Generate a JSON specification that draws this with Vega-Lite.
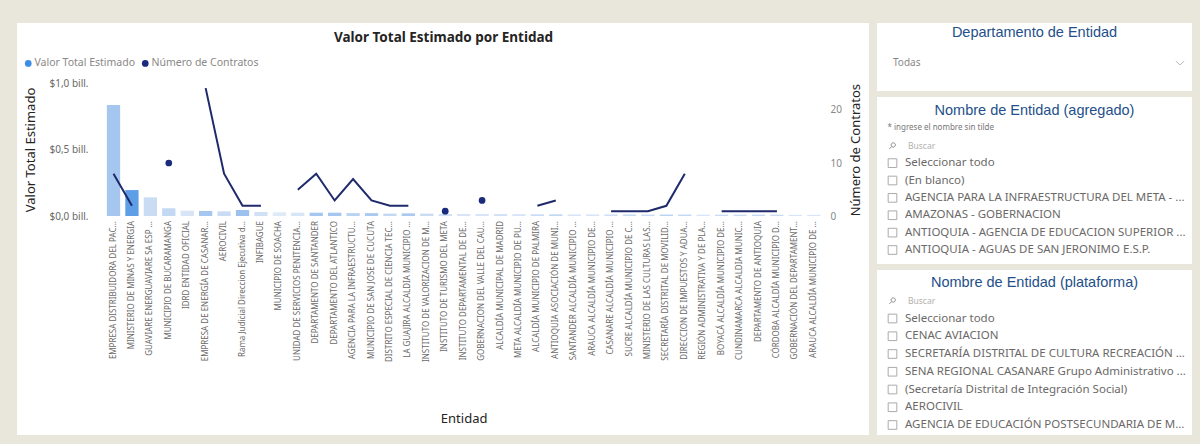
{
  "$schema": "https://vega.github.io/schema/vega-lite/v6.json",
  "background": "#e9e6dc",
  "padding": {"left": 17, "top": 23, "right": 8, "bottom": 9},
  "config": {"font": "Noto Sans", "view": {"stroke": null}},
  "datasets": {
    "entidades": [
      {"orden": 1, "entidad": "EMPRESA DISTRIBUIDORA DEL PAC...", "valor": 0.835, "contratos": 8, "tono": 0.45},
      {"orden": 2, "entidad": "MINISTERIO DE MINAS Y ENERGIA", "valor": 0.195, "contratos": 2, "tono": 0.9},
      {"orden": 3, "entidad": "GUAVIARE ENERGUAVIARE SA ESP ...", "valor": 0.14, "contratos": null, "tono": 0.2},
      {"orden": 4, "entidad": "MUNICIPIO DE BUCARAMANGA", "valor": 0.058, "contratos": 10, "tono": 0.25},
      {"orden": 5, "entidad": "IDRD ENTIDAD OFICIAL", "valor": 0.04, "contratos": null, "tono": 0.1},
      {"orden": 6, "entidad": "EMPRESA DE ENERGÍA DE CASANAR...", "valor": 0.038, "contratos": 24, "tono": 0.45},
      {"orden": 7, "entidad": "AEROCIVIL", "valor": 0.035, "contratos": 8, "tono": 0.2},
      {"orden": 8, "entidad": "Rama Judicial Direccion Ejecutiva d...", "valor": 0.045, "contratos": 2, "tono": 0.5},
      {"orden": 9, "entidad": "INFIBAGUE", "valor": 0.03, "contratos": 2, "tono": 0.15},
      {"orden": 10, "entidad": "MUNICIPIO DE SOACHA", "valor": 0.028, "contratos": null, "tono": 0.05},
      {"orden": 11, "entidad": "UNIDAD DE SERVICIOS PENITENCIA...", "valor": 0.025, "contratos": 5, "tono": 0.1},
      {"orden": 12, "entidad": "DEPARTAMENTO DE SANTANDER", "valor": 0.025, "contratos": 8, "tono": 0.45},
      {"orden": 13, "entidad": "DEPARTAMENTO DEL ATLANTICO", "valor": 0.025, "contratos": 3, "tono": 0.45},
      {"orden": 14, "entidad": "AGENCIA PARA LA INFRAESTRUCTU...", "valor": 0.022, "contratos": 7, "tono": 0.3},
      {"orden": 15, "entidad": "MUNICIPIO DE SAN JOSE DE CUCUTA", "valor": 0.022, "contratos": 3, "tono": 0.4},
      {"orden": 16, "entidad": "DISTRITO ESPECIAL DE CIENCIA TEC...", "valor": 0.018, "contratos": 2, "tono": 0.25},
      {"orden": 17, "entidad": "LA GUAJIRA ALCALDIA MUNICIPIO ...", "valor": 0.02, "contratos": 2, "tono": 0.4},
      {"orden": 18, "entidad": "INSTITUTO DE VALORIZACION DE M...", "valor": 0.018, "contratos": null, "tono": 0.2},
      {"orden": 19, "entidad": "INSTITUTO DE TURISMO DEL META", "valor": 0.015, "contratos": 1, "tono": 0.15},
      {"orden": 20, "entidad": "INSTITUTO DEPARTAMENTAL DE DE...", "valor": 0.015, "contratos": null, "tono": 0.1},
      {"orden": 21, "entidad": "GOBERNACION DEL VALLE DEL CAU...", "valor": 0.015, "contratos": 3, "tono": 0.1},
      {"orden": 22, "entidad": "ALCALDÍA MUNICIPAL DE MADRID", "valor": 0.014, "contratos": null, "tono": 0.15},
      {"orden": 23, "entidad": "META ALCALDÍA MUNICIPIO DE PU...", "valor": 0.014, "contratos": null, "tono": 0.1},
      {"orden": 24, "entidad": "ALCALDÍA MUNICIPIO DE PALMIRA", "valor": 0.013, "contratos": 2, "tono": 0.2},
      {"orden": 25, "entidad": "ANTIOQUIA ASOCIACIÓN DE MUNI...", "valor": 0.013, "contratos": 3, "tono": 0.25},
      {"orden": 26, "entidad": "SANTANDER ALCALDÍA MUNICIPIO ...", "valor": 0.012, "contratos": null, "tono": 0.1},
      {"orden": 27, "entidad": "ARAUCA ALCALDÍA MUNICIPIO DE...", "valor": 0.012, "contratos": null, "tono": 0.1},
      {"orden": 28, "entidad": "CASANARE ALCALDÍA MUNICIPIO ...", "valor": 0.012, "contratos": 1, "tono": 0.15},
      {"orden": 29, "entidad": "SUCRE ALCALDÍA MUNICIPIO DE C...", "valor": 0.012, "contratos": 1, "tono": 0.2},
      {"orden": 30, "entidad": "MINISTERIO DE LAS CULTURAS LAS...", "valor": 0.011, "contratos": 1, "tono": 0.2},
      {"orden": 31, "entidad": "SECRETARÍA DISTRITAL DE MOVILID...", "valor": 0.011, "contratos": 2, "tono": 0.3},
      {"orden": 32, "entidad": "DIRECCION DE IMPUESTOS Y ADUA...", "valor": 0.011, "contratos": 8, "tono": 0.25},
      {"orden": 33, "entidad": "REGIÓN ADMINISTRATIVA Y DE PLA...", "valor": 0.01, "contratos": null, "tono": 0.1},
      {"orden": 34, "entidad": "BOYACÁ ALCALDÍA MUNICIPIO DE...", "valor": 0.01, "contratos": 1, "tono": 0.2},
      {"orden": 35, "entidad": "CUNDINAMARCA ALCALDIA MUNIC...", "valor": 0.01, "contratos": 1, "tono": 0.2},
      {"orden": 36, "entidad": "DEPARTAMENTO DE ANTIOQUIA", "valor": 0.01, "contratos": 1, "tono": 0.25},
      {"orden": 37, "entidad": "CÓRDOBA ALCALDÍA MUNICIPIO D...", "valor": 0.01, "contratos": 1, "tono": 0.2},
      {"orden": 38, "entidad": "GOBERNACIÓN DEL DEPARTAMENT...", "valor": 0.009, "contratos": null, "tono": 0.1},
      {"orden": 39, "entidad": "ARAUCA ALCALDÍA MUNICIPIO DE ...", "valor": 0.009, "contratos": null, "tono": 0.1}
    ],
    "panel1": [
      {"fila": 0, "tipo": "titulo", "texto": "Departamento de Entidad"},
      {"fila": 1, "tipo": "valor", "texto": "Todas"}
    ],
    "panel2": [
      {"fila": 0, "tipo": "titulo", "texto": "Nombre de Entidad (agregado)"},
      {"fila": 1, "tipo": "nota", "texto": "* ingrese el nombre sin tilde"},
      {"fila": 2, "tipo": "buscar", "texto": "Buscar"},
      {"fila": 3, "tipo": "item", "texto": "Seleccionar todo"},
      {"fila": 4, "tipo": "item", "texto": "(En blanco)"},
      {"fila": 5, "tipo": "item", "texto": "AGENCIA PARA LA INFRAESTRUCTURA DEL META - ..."},
      {"fila": 6, "tipo": "item", "texto": "AMAZONAS - GOBERNACION"},
      {"fila": 7, "tipo": "item", "texto": "ANTIOQUIA - AGENCIA DE EDUCACION SUPERIOR ..."},
      {"fila": 8, "tipo": "item", "texto": "ANTIOQUIA - AGUAS DE SAN JERONIMO E.S.P."}
    ],
    "panel3": [
      {"fila": 0, "tipo": "titulo", "texto": "Nombre de Entidad (plataforma)"},
      {"fila": 1, "tipo": "buscar", "texto": "Buscar"},
      {"fila": 2, "tipo": "item", "texto": "Seleccionar todo"},
      {"fila": 3, "tipo": "item", "texto": "CENAC AVIACION"},
      {"fila": 4, "tipo": "item", "texto": "SECRETARÍA DISTRITAL DE CULTURA RECREACIÓN Y..."},
      {"fila": 5, "tipo": "item", "texto": "SENA REGIONAL CASANARE Grupo Administrativo ..."},
      {"fila": 6, "tipo": "item", "texto": "(Secretaría Distrital de Integración Social)"},
      {"fila": 7, "tipo": "item", "texto": "AEROCIVIL"},
      {"fila": 8, "tipo": "item", "texto": "AGENCIA DE EDUCACIÓN POSTSECUNDARIA DE ME..."}
    ]
  },
  "hconcat": [
    {
      "width": 852,
      "height": 412,
      "view": {"fill": "white", "stroke": null},
      "data": {"name": "entidades"},
      "layer": [
        {
          "encoding": {
            "x": {
              "field": "entidad", "type": "nominal",
              "sort": {"field": "orden", "op": "min"},
              "scale": {"range": [87.3, 806], "paddingInner": 0.28, "paddingOuter": 0.14},
              "axis": {"orient": "bottom", "offset": -218.5, "labelAngle": -90, "labelFontSize": 8, "labelColor": "#6b6968", "labelPadding": 4, "labelLimit": 200, "ticks": false, "domain": false, "grid": false, "title": "Entidad", "titleFontSize": 13, "titleFontWeight": "normal", "titleColor": "#252423", "titlePadding": 51}
            }
          },
          "layer": [
            {
              "mark": {"type": "bar"},
              "encoding": {
                "y": {
                  "field": "valor", "type": "quantitative",
                  "scale": {"domain": [0, 1], "range": [193, 60], "nice": false},
                  "axis": {"orient": "left", "offset": -76, "values": [0, 0.5, 1], "labelExpr": "'$' + replace(format(datum.value, '.1f'), '.', ',') + ' bill.'", "labelFontSize": 10, "labelColor": "#6b6968", "labelPadding": 5, "ticks": false, "domain": false, "grid": false, "title": "Valor Total Estimado", "titleFontSize": 13, "titleFontWeight": "normal", "titleColor": "#252423", "titlePadding": 11}
                },
                "color": {"field": "tono", "type": "quantitative", "scale": {"domain": [0, 1], "range": ["#e6eef8", "#4a95e4"]}, "legend": null}
              }
            },
            {
              "encoding": {
                "y": {
                  "field": "contratos", "type": "quantitative",
                  "scale": {"domain": [0, 25], "range": [193.5, 59.75], "nice": false},
                  "axis": {"orient": "right", "offset": -43, "values": [0, 10, 20], "labelFontSize": 10, "labelColor": "#8a8886", "labelPadding": 4, "ticks": false, "domain": false, "grid": false, "title": "Número de Contratos", "titleAngle": 270, "titleFontSize": 13, "titleFontWeight": "normal", "titleColor": "#252423", "titlePadding": 21}
                }
              },
              "layer": [
                {
                  "mark": {"type": "line", "color": "#1e2a6b", "strokeWidth": 2, "invalid": "break-paths-filter-domains"},
                  "encoding": {"order": {"field": "orden", "type": "quantitative"}}
                },
                {
                  "transform": [
                    {"window": [{"op": "lag", "field": "contratos", "as": "prev"}, {"op": "lead", "field": "contratos", "as": "next"}], "sort": [{"field": "orden"}]},
                    {"filter": "datum.contratos != null && datum.prev == null && datum.next == null"}
                  ],
                  "mark": {"type": "point", "filled": true, "size": 45, "opacity": 1},
                  "encoding": {
                    "fill": {
                      "datum": "Número de Contratos", "type": "nominal",
                      "scale": {"domain": ["Valor Total Estimado", "Número de Contratos"], "range": ["#3a8ee6", "#1a2a7c"]},
                      "legend": {"orient": "none", "legendX": 6, "legendY": 35, "direction": "horizontal", "title": null, "symbolType": "circle", "symbolSize": 45, "symbolStrokeWidth": 0, "labelFontSize": 10.5, "labelColor": "#8a8886", "labelOffset": 1, "columnPadding": 4, "padding": 0}
                    }
                  }
                }
              ]
            }
          ],
          "resolve": {"scale": {"y": "independent"}}
        },
        {
          "mark": {"type": "point", "opacity": 0},
          "encoding": {
            "x": {
              "field": "valor", "type": "quantitative",
              "axis": {"orient": "top", "offset": -21, "labels": false, "ticks": false, "domain": false, "grid": false, "title": "Valor Total Estimado por Entidad", "titleFontSize": 13.5, "titleFontWeight": "bold", "titleColor": "#252423", "titlePadding": 0}
            }
          }
        }
      ],
      "resolve": {"scale": {"x": "independent", "y": "independent"}}
    },
    {
      "spacing": 6,
      "vconcat": [
        {
          "width": 315,
          "height": 68,
          "view": {"fill": "white", "stroke": null},
          "data": {"name": "panel1"},
          "encoding": {"y": {"field": "fila", "type": "quantitative", "scale": {"domain": [0, 1], "range": [10, 40]}, "axis": null}},
          "layer": [
            {"transform": [{"filter": "datum.tipo == 'titulo'"}], "mark": {"type": "text", "fontSize": 14.5, "font": "Liberation Sans", "color": "#24508a", "align": "center", "baseline": "middle"}, "encoding": {"text": {"field": "texto"}}},
            {"transform": [{"filter": "datum.tipo == 'valor'"}], "mark": {"type": "text", "fontSize": 10, "color": "#8a8886", "align": "left", "baseline": "middle"}, "encoding": {"x": {"datum": "texto", "type": "nominal", "scale": {"type": "point", "domain": ["texto", "flecha"], "range": [16, 303], "padding": 0}, "axis": null}, "text": {"field": "texto"}}},
            {"transform": [{"filter": "datum.tipo == 'valor'"}], "mark": {"type": "point", "shape": "M-1,-0.45L0,0.45L1,-0.45", "filled": false, "stroke": "#a19f9d", "strokeWidth": 1, "size": 70}, "encoding": {"x": {"datum": "flecha", "type": "nominal", "scale": {"type": "point", "domain": ["texto", "flecha"], "range": [16, 303], "padding": 0}, "axis": null}}}
          ]
        },
        {
          "width": 315,
          "height": 167,
          "view": {"fill": "white", "stroke": null},
          "data": {"name": "panel2"},
          "encoding": {"y": {"field": "fila", "type": "quantitative", "scale": {"domain": [0, 8], "range": [14, 153]}, "axis": null}},
          "layer": [
            {"transform": [{"filter": "datum.tipo == 'titulo'"}], "mark": {"type": "text", "fontSize": 14.5, "font": "Liberation Sans", "color": "#24508a", "align": "center", "baseline": "middle"}, "encoding": {"text": {"field": "texto"}}},
            {"transform": [{"filter": "datum.tipo == 'nota'"}], "mark": {"type": "text", "fontSize": 8, "color": "#777777", "align": "left", "baseline": "middle", "dx": -5}, "encoding": {"x": {"datum": "casilla", "type": "nominal", "scale": {"type": "point", "domain": ["casilla", "texto"], "range": [15.5, 28], "padding": 0}, "axis": null}, "text": {"field": "texto"}}},
            {"transform": [{"filter": "datum.tipo == 'buscar'"}], "mark": {"type": "point", "shape": "M0.75,-0.2A0.55,0.55 0 1 1 -0.35,-0.2A0.55,0.55 0 1 1 0.75,-0.2ZM-0.19,0.19L-0.8,0.8", "filled": false, "stroke": "#605e5c", "strokeWidth": 1, "size": 60}, "encoding": {"x": {"datum": "casilla", "type": "nominal", "scale": {"type": "point", "domain": ["casilla", "texto"], "range": [15.5, 28], "padding": 0}, "axis": null}}},
            {"transform": [{"filter": "datum.tipo == 'buscar'"}], "mark": {"type": "text", "fontSize": 8.5, "color": "#b3b0ad", "align": "left", "baseline": "middle", "dx": 3}, "encoding": {"x": {"datum": "texto", "type": "nominal", "scale": {"type": "point", "domain": ["casilla", "texto"], "range": [15.5, 28], "padding": 0}, "axis": null}, "text": {"field": "texto"}}},
            {"transform": [{"filter": "datum.tipo == 'item'"}], "mark": {"type": "point", "shape": "square", "filled": false, "stroke": "#8a8886", "strokeWidth": 1, "size": 75}, "encoding": {"x": {"datum": "casilla", "type": "nominal", "scale": {"type": "point", "domain": ["casilla", "texto"], "range": [15.5, 28], "padding": 0}, "axis": null}}},
            {"transform": [{"filter": "datum.tipo == 'item'"}], "mark": {"type": "text", "fontSize": 11.5, "color": "#6b6968", "align": "left", "baseline": "middle", "limit": 283}, "encoding": {"x": {"datum": "texto", "type": "nominal", "scale": {"type": "point", "domain": ["casilla", "texto"], "range": [15.5, 28], "padding": 0}, "axis": null}, "text": {"field": "texto"}}}
          ]
        },
        {
          "width": 315,
          "height": 165,
          "view": {"fill": "white", "stroke": null},
          "data": {"name": "panel3"},
          "encoding": {"y": {"field": "fila", "type": "quantitative", "scale": {"domain": [0, 8], "range": [13, 155]}, "axis": null}},
          "layer": [
            {"transform": [{"filter": "datum.tipo == 'titulo'"}], "mark": {"type": "text", "fontSize": 14.5, "font": "Liberation Sans", "color": "#24508a", "align": "center", "baseline": "middle"}, "encoding": {"text": {"field": "texto"}}},
            {"transform": [{"filter": "datum.tipo == 'buscar'"}], "mark": {"type": "point", "shape": "M0.75,-0.2A0.55,0.55 0 1 1 -0.35,-0.2A0.55,0.55 0 1 1 0.75,-0.2ZM-0.19,0.19L-0.8,0.8", "filled": false, "stroke": "#605e5c", "strokeWidth": 1, "size": 60}, "encoding": {"x": {"datum": "casilla", "type": "nominal", "scale": {"type": "point", "domain": ["casilla", "texto"], "range": [15.5, 28], "padding": 0}, "axis": null}}},
            {"transform": [{"filter": "datum.tipo == 'buscar'"}], "mark": {"type": "text", "fontSize": 8.5, "color": "#b3b0ad", "align": "left", "baseline": "middle", "dx": 3}, "encoding": {"x": {"datum": "texto", "type": "nominal", "scale": {"type": "point", "domain": ["casilla", "texto"], "range": [15.5, 28], "padding": 0}, "axis": null}, "text": {"field": "texto"}}},
            {"transform": [{"filter": "datum.tipo == 'item'"}], "mark": {"type": "point", "shape": "square", "filled": false, "stroke": "#8a8886", "strokeWidth": 1, "size": 75}, "encoding": {"x": {"datum": "casilla", "type": "nominal", "scale": {"type": "point", "domain": ["casilla", "texto"], "range": [15.5, 28], "padding": 0}, "axis": null}}},
            {"transform": [{"filter": "datum.tipo == 'item'"}], "mark": {"type": "text", "fontSize": 11.5, "color": "#6b6968", "align": "left", "baseline": "middle", "limit": 283}, "encoding": {"x": {"datum": "texto", "type": "nominal", "scale": {"type": "point", "domain": ["casilla", "texto"], "range": [15.5, 28], "padding": 0}, "axis": null}, "text": {"field": "texto"}}}
          ]
        }
      ]
    }
  ],
  "spacing": 8
}
